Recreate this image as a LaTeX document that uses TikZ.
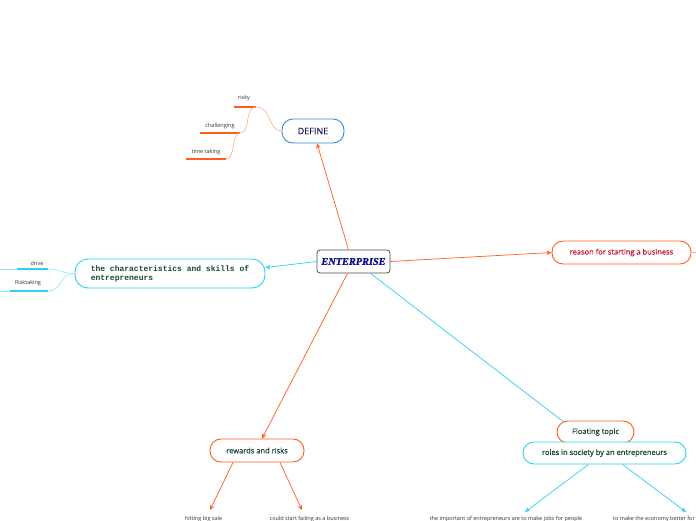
\documentclass[tikz,border=0pt]{standalone}
\usepackage{fontspec}
\setmainfont{Open Sans}
\newfontfamily\semib{Open Sans}[FakeBold=0.6]
\newfontfamily\monof{Liberation Mono}
\newfontfamily\entf{Liberation Serif}[FakeBold=1.2]
\usetikzlibrary{arrows.meta}
\definecolor{orng}{RGB}{255,92,30}
\definecolor{lorng}{RGB}{255,170,130}
\definecolor{cyn}{RGB}{40,210,240}
\definecolor{lcyn}{RGB}{140,230,250}
\definecolor{dgreen}{RGB}{25,72,58}
\definecolor{dblue}{RGB}{50,140,215}
\definecolor{navy}{RGB}{20,30,90}
\definecolor{entblue}{RGB}{15,15,140}
\definecolor{crim}{RGB}{200,25,60}
\definecolor{lbl}{RGB}{50,50,50}
\tikzset{
  topic/.style={draw, line width=0.9pt, rounded corners=11pt, inner sep=0pt, align=center,
    font=\semib\fontsize{7.5}{9}\selectfont, text=dgreen, fill=white},
  small/.style={inner sep=0pt, font=\fontsize{5.5}{6.5}\selectfont, text=lbl},
  oarr/.style={draw=orng, line width=0.7pt, -{Stealth[length=5pt,width=4.5pt]}},
  carr/.style={draw=cyn, line width=0.7pt, -{Stealth[length=5pt,width=4.5pt]}},
  oline/.style={draw=lorng, line width=0.6pt},
  cline/.style={draw=lcyn, line width=0.6pt},
  ounder/.style={draw=orng, line width=1.1pt},
  cunder/.style={draw=cyn, line width=1.1pt},
}
\begin{document}
\begin{tikzpicture}[x=1pt,y=-1pt]
\useasboundingbox (0,0) rectangle (696,520);
\clip (0,0) rectangle (696,520);
% main nodes
\node[draw=gray!60!black, line width=0.8pt, rounded corners=3pt, fill=white, inner sep=0pt,
  minimum width=73pt, minimum height=23pt] (ent) at (353.5,261.5)
  {\entf\bfseries\itshape\fontsize{10.3}{11}\selectfont\color{entblue}ENTERPRISE};
\node[topic, draw=dblue, minimum width=62pt, minimum height=24pt, text=navy,
  font=\semib\fontsize{9}{10}\selectfont] (def) at (313,131) {DEFINE};
\node[topic, draw=cyn, minimum width=190pt, minimum height=29pt, align=left,
  rounded corners=13pt] (chr) at (170,273.5)
  {\monof\bfseries\fontsize{8}{9.5}\selectfont the characteristics and skills of\\ \monof\bfseries\fontsize{8}{9.5}\selectfont entrepreneurs\hspace*{92pt}};
\node[topic, draw=orng, minimum width=139pt, minimum height=23pt, text=crim] (rsn) at (621.5,252.5) {reason for starting a business};
\node[topic, draw=orng, minimum width=94pt, minimum height=23pt] (rew) at (257,450.5) {rewards and risks};
\node[topic, draw=orng, minimum width=77pt, minimum height=22pt] (flt) at (595.5,432) {Floating topic};
\node[topic, draw=cyn, minimum width=163pt, minimum height=22pt] (rol) at (604.5,453) {roles in society by an entrepreneurs};
% connectors from ENTERPRISE
\draw[oarr] ([xshift=-5pt]ent.north) -- ([xshift=4pt]def.south);
\draw[carr] (ent.west) -- ([yshift=6pt]chr.east);
\draw[oarr] (ent.east) -- (rsn.west);
\draw[oarr] ([xshift=-6pt]ent.south) -- ([xshift=5pt]rew.north);
\draw[draw=cyn, line width=0.7pt] ([xshift=17pt]ent.south) -- ([xshift=-31pt,yshift=-2pt]flt.north);
\draw[oline] (rsn.east) -- (696,252.5);
% DEFINE children
\node[small] (rsk) at (244,98) {risky};
\node[small] (chl) at (220,126) {challenging};
\node[small] (tim) at (206,152) {time taking};
\coordinate (rskE) at (256,107);
\coordinate (chlE) at (240,133);
\coordinate (timE) at (226,159);
\draw[ounder] (234,107) -- (rskE);
\draw[ounder] (200,133) -- (chlE);
\draw[ounder] (186,159) -- (timE);
\draw[oline] (def.west) .. controls (268,131) and (272,107) .. (rskE);
\draw[oline] (rskE) .. controls (244,107) and (251,133) .. (chlE);
\draw[oline] (chlE) .. controls (231,133) and (236,159) .. (timE);
% characteristics children
\node[small] (drv) at (37,263) {drive};
\node[small] (rkt) at (28,283) {Risktaking};
\coordinate (drvE) at (48,269);
\coordinate (rktE) at (48,291);
\draw[cline] (0,269) -- (drvE);
\draw[cunder] (17,269) -- (drvE);
\draw[cline] (0,291) -- (rktE);
\draw[cunder] (10,291) -- (rktE);
\draw[cline] (chr.west) .. controls (60,273) and (60,269) .. (drvE);
\draw[cline] (chr.west) .. controls (60,273) and (62,291) .. (rktE);
% rewards children
\node[small, anchor=north] (hit) at (203.5,516) {hitting big sale};
\node[small, anchor=north] (fail) at (309.5,516) {could start failing as a business};
\draw[oarr] ([xshift=-24pt]rew.south) -- ([xshift=6.5pt,yshift=6pt]hit.north);
\draw[oarr] ([xshift=23pt]rew.south) -- ([xshift=-7.5pt,yshift=6pt]fail.north);
% roles children
\node[small, anchor=north] (imp) at (506,516) {the important of entrepreneurs are to make jobs for people};
\node[small, anchor=north west] (eco) at (613,516) {to make the economy better for the country};
\draw[carr] ([xshift=-16pt]rol.south) -- ([xshift=19pt,yshift=4pt]imp.north);
\draw[carr] ([xshift=18pt]rol.south) -- ([xshift=73pt,yshift=4pt]eco.north west);
\end{tikzpicture}
\end{document}
